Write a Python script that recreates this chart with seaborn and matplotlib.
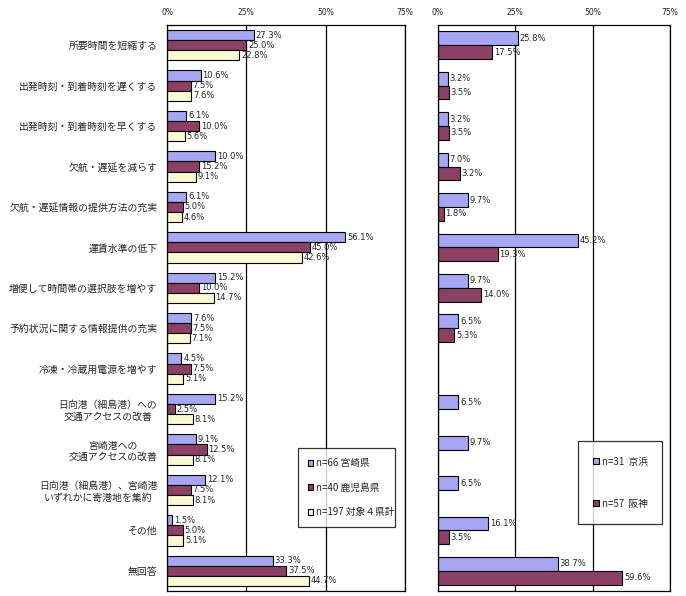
import numpy as np
import pandas as pd
import matplotlib
matplotlib.use("Agg")
import matplotlib.pyplot as plt
import seaborn as sns

sns.set_style("white")
plt.rcParams['font.family'] = ['Noto Sans CJK JP', 'DejaVu Sans']

categories = [
    "所要時間を短縮する",
    "出発時刻・到着時刻を遅くする",
    "出発時刻・到着時刻を早くする",
    "欠航・遅延を減らす",
    "欠航・遅延情報の提供方法の充実",
    "運賃水準の低下",
    "増便して時間帯の選択肢を増やす",
    "予約状況に関する情報提供の充実",
    "冷凍・冷蔵用電源を増やす",
    "日向港（細島港）への\n交通アクセスの改善",
    "宮崎港への\n交通アクセスの改善",
    "日向港（細島港）、宮崎港\nいずれかに寄港地を集約",
    "その他",
    "無回答",
]

# 左：九州側
miyazaki = [27.3, 10.6, 6.1, 15.2, 6.1, 56.1, 15.2, 7.6, 4.5, 15.2, 9.1, 12.1, 1.5, 33.3]
kagoshima = [25.0, 7.5, 10.0, 10.0, 5.0, 45.0, 10.0, 7.5, 7.5, 2.5, 12.5, 7.5, 5.0, 37.5]
total4 = [22.8, 7.6, 5.6, 9.1, 4.6, 42.6, 14.7, 7.1, 5.1, 8.1, 8.1, 8.1, 5.1, 44.7]
# ラベル（元の図のまま）
miyazaki_lbl = [27.3, 10.6, 6.1, 10.0, 6.1, 56.1, 15.2, 7.6, 4.5, 15.2, 9.1, 12.1, 1.5, 33.3]
kagoshima_lbl = [25.0, 7.5, 10.0, 15.2, 5.0, 45.0, 10.0, 7.5, 7.5, 2.5, 12.5, 7.5, 5.0, 37.5]
total4_lbl = total4

# 右：京浜・阪神
keihin = [25.8, 3.2, 3.2, 3.2, 9.7, 45.2, 9.7, 6.5, np.nan, 6.5, 9.7, 6.5, 16.1, 38.7]
hanshin = [17.5, 3.5, 3.5, 7.0, 1.8, 19.3, 14.0, 5.3, np.nan, np.nan, np.nan, np.nan, 3.5, 59.6]
keihin_lbl = [25.8, 3.2, 3.2, 7.0, 9.7, 45.2, 9.7, 6.5, np.nan, 6.5, 9.7, 6.5, 16.1, 38.7]
hanshin_lbl = [17.5, 3.5, 3.5, 3.2, 1.8, 19.3, 14.0, 5.3, np.nan, np.nan, np.nan, np.nan, 3.5, 59.6]

left_series = ["n=66 宮崎県", "n=40 鹿児島県", "n=197 対象４県計"]
right_series = ["n=31  京浜", "n=57  阪神"]
left_colors = ["#9999FF", "#993366", "#FFFFCC"]
right_colors = ["#9999FF", "#993366"]


def make_df(series_names, values):
    rows = []
    for name, vals in zip(series_names, values):
        for c, v in zip(categories, vals):
            rows.append({"cat": c, "series": name, "val": v})
    return pd.DataFrame(rows).dropna()


df_left = make_df(left_series, [miyazaki, kagoshima, total4])
df_right = make_df(right_series, [keihin, hanshin])

fig = plt.figure(figsize=(6.86, 5.96), dpi=100)
ax1 = fig.add_axes([167 / 686, 1 - 591 / 596, 238 / 686, 566 / 596])
ax2 = fig.add_axes([438 / 686, 1 - 591 / 596, 232 / 686, 566 / 596])


def draw(ax, df, series_names, colors, labels, width, show_cats):
    sns.barplot(data=df, y="cat", x="val", hue="series", order=categories,
                hue_order=series_names, palette=colors, orient="h",
                width=width, errorbar=None, edgecolor="black", linewidth=0.8,
                ax=ax)
    ax.set_xlim(0, 75)
    ax.set_ylim(len(categories) - 0.5, -0.5)
    ax.xaxis.tick_top()
    ax.set_xticks([0, 25, 50, 75])
    ax.set_xticklabels(["0%", "25%", "50%", "75%"], fontsize=5.5, family='DejaVu Sans')
    ax.tick_params(axis='x', length=0, pad=6)
    ax.grid(axis='x', color='black', linewidth=0.9)
    ax.grid(axis='y', visible=False)
    ax.set_axisbelow(True)
    for s in ax.spines.values():
        s.set_color('black')
        s.set_linewidth(0.9)
    ax.set_xlabel("")
    ax.set_ylabel("")
    if show_cats:
        ax.set_yticks(range(len(categories)))
        ax.set_yticklabels(categories, fontsize=7.1, multialignment='center')
        ax.tick_params(axis='y', which='major', length=0, pad=7)
        ax.set_yticks(np.arange(0.5, len(categories) - 1, 1), minor=True)
        ax.tick_params(axis='y', which='minor', length=3, direction='in', width=0.8)
    else:
        ax.set_yticks([])
    for cont, lbls in zip(ax.containers, labels):
        for bar in cont:
            yc = bar.get_y() + bar.get_height() / 2
            i = int(round(yc))
            lv = lbls[i]
            if np.isnan(lv):
                continue
            ax.text(bar.get_width() + 0.6, yc, f"{lv:.1f}%", va='center', ha='left',
                    fontsize=6, family='DejaVu Sans')


draw(ax1, df_left, left_series, left_colors,
     [miyazaki_lbl, kagoshima_lbl, total4_lbl], 0.75, True)
draw(ax2, df_right, right_series, right_colors,
     [keihin_lbl, hanshin_lbl], 0.68, False)

leg1 = ax1.legend(loc='lower left', bbox_to_anchor=(0.55, 0.113, 0.408, 0.141),
                  mode='expand', fontsize=7, frameon=True, fancybox=False,
                  edgecolor='black', handlelength=0.6, handleheight=0.6,
                  handletextpad=0.3, labelspacing=1.5, borderpad=1.0,
                  borderaxespad=0)
leg1.get_frame().set_linewidth(0.9)
leg2 = ax2.legend(loc='lower left', bbox_to_anchor=(0.603, 0.118, 0.363, 0.142),
                  mode='expand', fontsize=7, frameon=True, fancybox=False,
                  edgecolor='black', handlelength=0.6, handleheight=0.6,
                  handletextpad=0.3, labelspacing=3.3, borderpad=1.6,
                  borderaxespad=0)
leg2.get_frame().set_linewidth(0.9)

fig.savefig("out.png", dpi=100)
